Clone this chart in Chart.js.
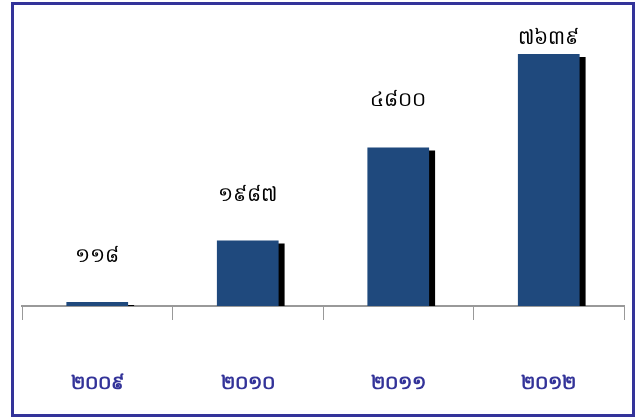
<!DOCTYPE html>
<html>
<head>
<meta charset="utf-8">
<script src="https://cdn.jsdelivr.net/npm/chart.js@4/dist/chart.umd.min.js"></script>
<style>
html,body{margin:0;padding:0;background:#fff;}
#wrap{width:639px;height:419px;position:relative;}
</style>
</head>
<body>
<div id="wrap"><canvas id="c" width="639" height="419"></canvas></div>
<script>
const categories = ["២០០៩", "២០១០", "២០១១", "២០១២"];
const values = [118, 1987, 4800, 7639];
const valueLabels = ["១១៨", "១៩៨៧", "៤៨០០", "៧៦៣៩"];

const framePlugin = {
  id: 'frame',
  beforeDraw(chart) {
    const ctx = chart.ctx;
    ctx.save();
    ctx.fillStyle = '#ffffff';
    ctx.fillRect(0, 0, chart.width, chart.height);
    ctx.strokeStyle = '#333399';
    ctx.lineWidth = 3;
    ctx.strokeRect(12.5, 3.5, 621, 412);
    ctx.restore();
  }
};

const shadowPlugin = {
  id: 'barShadow',
  beforeDatasetDraw(chart) {
    const ctx = chart.ctx;
    ctx.save();
    ctx.shadowColor = '#000000';
    ctx.shadowOffsetX = 6;
    ctx.shadowOffsetY = 3;
    ctx.shadowBlur = 0;
  },
  afterDatasetDraw(chart) {
    chart.ctx.restore();
  }
};

const labelPlugin = {
  id: 'valueLabels',
  afterDatasetsDraw(chart, args, opts) {
    const ctx = chart.ctx;
    const meta = chart.getDatasetMeta(0);
    ctx.save();
    ctx.fillStyle = '#000';
    ctx.font = opts.font;
    ctx.textAlign = 'center';
    ctx.textBaseline = 'middle';
    meta.data.forEach((bar, i) => {
      ctx.fillText(valueLabels[i], bar.x, bar.y - opts.offsets[i]);
    });
    ctx.restore();
  }
};

new Chart(document.getElementById('c'), {
  type: 'bar',
  data: {
    labels: categories,
    datasets: [{
      data: values,
      backgroundColor: '#1F497D',
      borderWidth: 0,
      barPercentage: 0.41,
      categoryPercentage: 1.0,
      clip: { left: false, right: false, top: false, bottom: 0 }
    }]
  },
  options: {
    responsive: false,
    animation: false,
    events: [],
    layout: { padding: { left: 22, right: 15, top: 42, bottom: 13 } },
    plugins: {
      legend: { display: false },
      tooltip: { enabled: false },
      valueLabels: { font: '20px "Noto Sans", "DejaVu Sans", sans-serif', offsets: [46, 45, 47, 16] }
    },
    scales: {
      y: { display: false, min: 0, max: 8000 },
      x: {
        afterFit(s) { s.height = 100; },
        grid: {
          drawOnChartArea: false,
          drawTicks: true,
          tickLength: 14,
          color: '#999999',
          lineWidth: 1
        },
        border: { display: true, color: '#999999', width: 2 },
        ticks: {
          color: '#333399',
          padding: 52,
          font: { size: 19, weight: 'bold', family: '"Noto Sans", "DejaVu Sans", sans-serif' },
          maxRotation: 0
        }
      }
    }
  },
  plugins: [framePlugin, shadowPlugin, labelPlugin]
});
</script>
</body>
</html>
